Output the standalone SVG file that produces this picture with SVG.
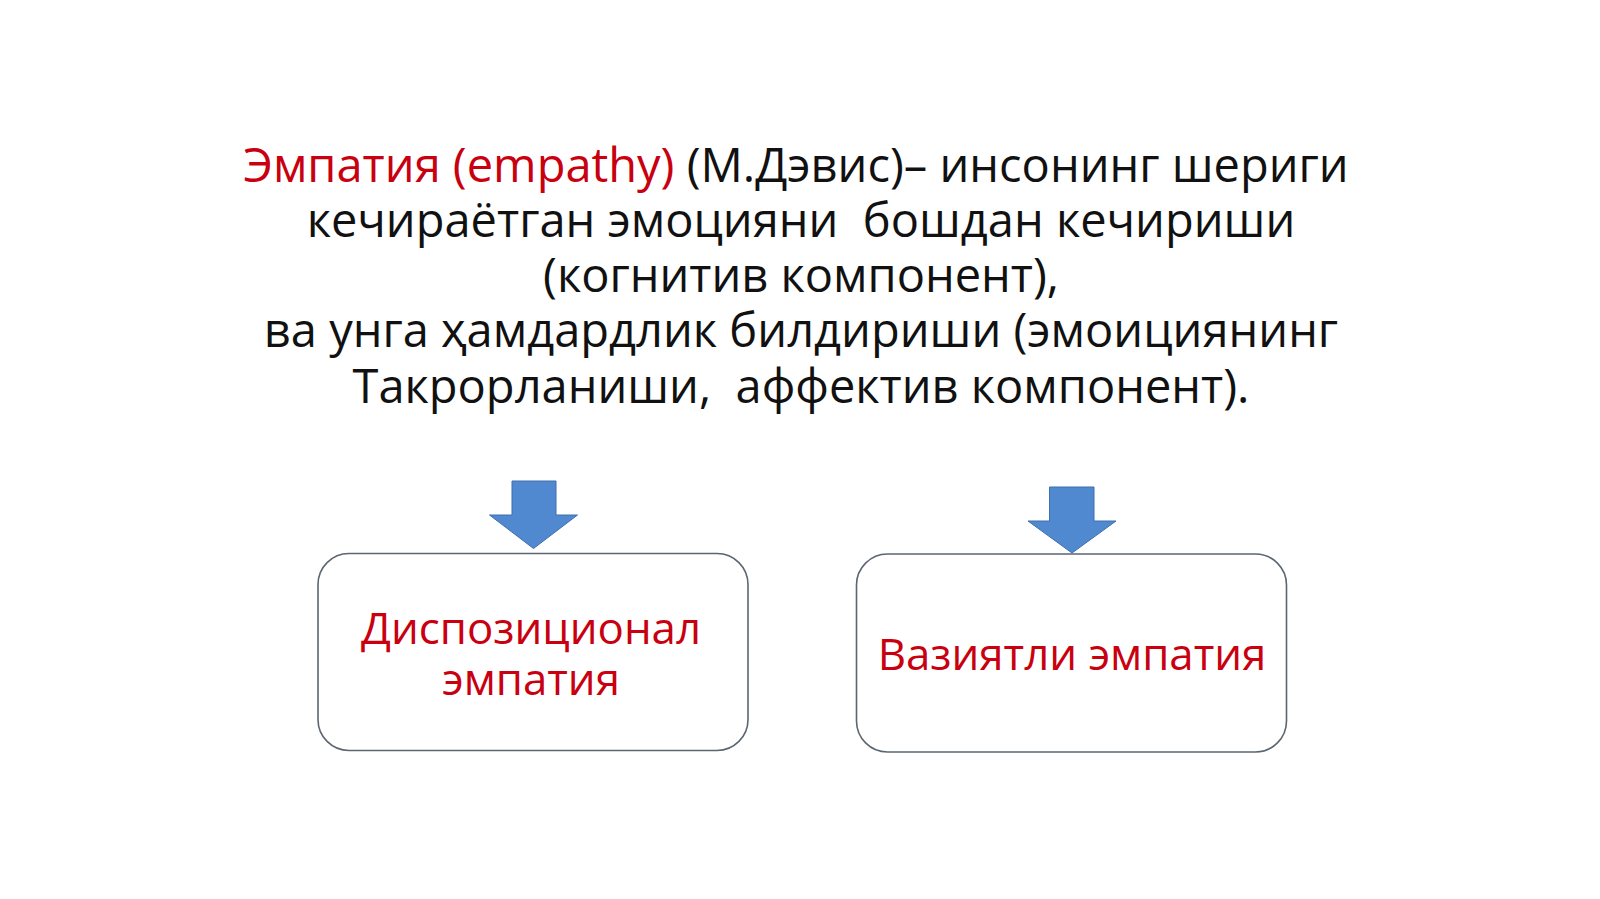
<svg xmlns="http://www.w3.org/2000/svg" width="1600" height="899" viewBox="0 0 1600 899">
<style>
.t{font-family:"Open Sans","Noto Sans","DejaVu Sans",sans-serif;font-size:47px;fill:#111;text-anchor:middle}
.b{font-size:43.8px}
.r{fill:#c8000f}
.box{fill:#fff;stroke:#5b6670;stroke-width:1.6}
.arr{fill:#5089cf;stroke:#3e6fae;stroke-width:1}
</style>
<rect width="1600" height="899" fill="#fff"/>
<g id="title">
<text class="t" x="796" y="182"><tspan class="r">Эмпатия (empathy)</tspan> (М.Дэвис)– инсонинг шериги</text>
<text class="t" x="801" y="237" xml:space="preserve">кечираётган эмоцияни  бошдан кечириши</text>
<text class="t" x="801" y="292">(когнитив компонент),</text>
<text class="t" x="801" y="347">ва унга ҳамдардлик билдириши (эмоициянинг</text>
<text class="t" x="801" y="403" xml:space="preserve">Такрорланиши,  аффектив компонент).</text>
</g>
<g id="connectors">
<path class="arr" d="M512,481 H556 V515 H577.5 L533.5,548.5 L489.5,515 H512 Z"/>
<path class="arr" d="M1049.5,487 H1094 V521 H1116 L1072,553 L1028,521 H1049.5 Z"/>
</g>
<g id="node-dispositional">
<rect class="box" x="318" y="553.5" width="430" height="197" rx="31" ry="31"/>
<text class="t b r" x="531" y="644">Диспозиционал</text>
<text class="t b r" x="531" y="695">эмпатия</text>
</g>
<g id="node-situational">
<rect class="box" x="856.5" y="554" width="430" height="198" rx="31" ry="31"/>
<text class="t b r" x="1072" y="670">Вазиятли эмпатия</text>
</g>
</svg>
